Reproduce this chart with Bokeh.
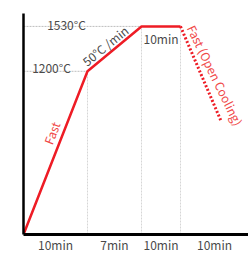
import math
from bokeh.plotting import figure
from bokeh.models import Range1d, FixedTicker
from bokeh.core.properties import value
from bokeh.embed import file_html
from bokeh.resources import INLINE

# ---- data ----
stage_labels = ["10min", "7min", "10min", "10min"]
boundary_temps = [0, 1200, 1530, 1530]      # temperature at each stage boundary
cooling_end_temp = 830                        # where the dotted cooling line stops
cooling_fraction = 0.6                        # share of last stage covered by dotted line
temp_labels = ["1200°C", "1530°C"]
rate_label = "50°C /min"
heat_label = "Fast"
hold_label = "10min"
cool_label = "Fast (Open Cooling)"

# ---- layout (schematic, not to scale) ----
STAGE_W = [64, 54, 39, 68]
edges = [0]
for w in STAGE_W:
    edges.append(edges[-1] + w)
centers = [(edges[i] + edges[i + 1]) / 2 for i in range(len(STAGE_W))]

FONT_NAME = "Noto Sans CJK SC"
FONT = value(FONT_NAME)
GRAY = "#4a4a4a"
RED = "#ee1c25"
RED_TXT = "#f04848"

p = figure(width=248, height=255, output_backend="svg", toolbar_location=None,
           x_range=Range1d(0, edges[-1]), y_range=Range1d(0, 1625),
           min_border_left=23, min_border_right=0, min_border_top=13, min_border_bottom=20)
p.outline_line_color = None
p.grid.visible = False

# axes
p.yaxis.axis_line_width = 2.5
p.yaxis.axis_line_color = "black"
p.yaxis.major_tick_line_color = None
p.yaxis.minor_tick_line_color = None
p.yaxis.major_tick_out = 0
p.yaxis.major_label_text_font_size = "0px"
p.yaxis.ticker = FixedTicker(ticks=[])

p.xaxis.axis_line_width = 3
p.xaxis.axis_line_color = "black"
p.xaxis.major_tick_line_color = None
p.xaxis.minor_tick_line_color = None
p.xaxis.major_tick_out = 0
p.xaxis.ticker = FixedTicker(ticks=centers)
p.xaxis.major_label_overrides = {c: l for c, l in zip(centers, stage_labels)}
p.xaxis.major_label_text_font = FONT_NAME
p.xaxis.major_label_text_font_size = "12px"
p.xaxis.major_label_text_color = GRAY
p.xaxis.major_label_standoff = 1

# reference guides
ge = edges[1:4]
gt = boundary_temps[1:4]
p.segment(x0=ge, y0=[0] * 3, x1=ge, y1=gt, line_color="#d6d6d6", line_width=1, line_dash="2 1")
p.segment(x0=[0, 0], y0=boundary_temps[1:3], x1=edges[1:3], y1=boundary_temps[1:3],
          line_color="#bdbdbd", line_width=1, line_dash="2 1")

# curve
p.line(x=edges[:4], y=boundary_temps, line_color=RED, line_width=2.5)
cx = [edges[3], edges[3] + cooling_fraction * STAGE_W[3]]
p.line(x=cx, y=[boundary_temps[3], cooling_end_temp], line_color=RED, line_width=3,
       line_dash="2 2")

# labels
p.text(x=[28, 43], y=boundary_temps[1:3], text=temp_labels, text_font=FONT,
       text_font_size="12px", text_color=GRAY, text_align="center",
       text_baseline="alphabetic", y_offset=[-4, -2])
p.text(x=[centers[2]], y=[boundary_temps[2]], text=[hold_label], text_font=FONT,
       text_font_size="12px", text_color=GRAY, text_align="center",
       text_baseline="top", y_offset=4)
p.text(x=[81.5], y=[1390], text=[rate_label], text_font=FONT, text_font_size="12px",
       text_color=GRAY, text_align="center", text_baseline="middle",
       angle=math.radians(39))
p.text(x=[28], y=[747], text=[heat_label], text_font=FONT, text_font_size="12px",
       text_color=RED_TXT, text_align="center", text_baseline="middle",
       angle=math.radians(68.7))
p.text(x=[192], y=[1172], text=[cool_label], text_font=FONT, text_font_size="12px",
       text_color=RED_TXT, text_align="center", text_baseline="middle",
       angle=math.radians(-64))

open("out.html", "w").write(file_html(p, INLINE))
